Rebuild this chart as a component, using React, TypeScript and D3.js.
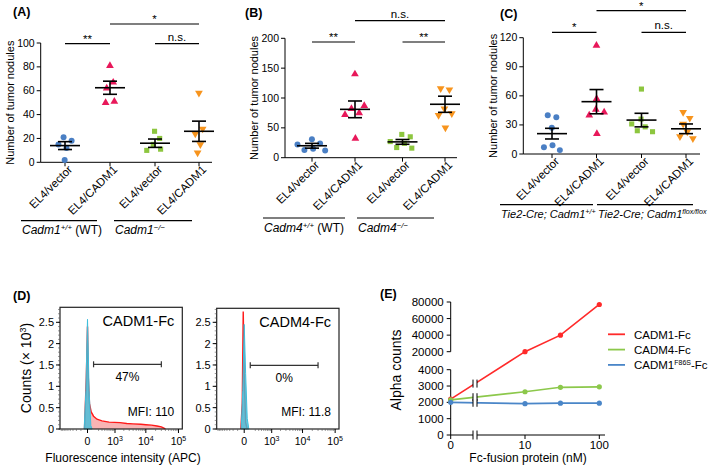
import React from 'react';
import * as d3 from 'd3';

const FONT = 'Arial, "Liberation Sans", Helvetica, sans-serif';

// ---- dot plots (A, B, C) ----
const groupNames = ['EL4/vector', 'EL4/CADM1', 'EL4/vector', 'EL4/CADM1'];
const groupColors = ['#4a7fc4', '#e8185a', '#8dc63f', '#f7941d'];
const groupShapes = ['circle', 'triangle', 'square', 'triangleDown'];

const pointsA = [[21, 18, 15, 12, 2], [81, 67, 62, 51, 50], [26, 20, 15, 11, 10], [58, 28, 24, 15, 8]];
const meansA = [14, 62.5, 16, 26];
const semA = [3.3, 5.5, 3.5, 8.5];
const ticksA = [0, 20, 40, 60, 80, 100];
const sigA = [{ a: 0, b: 1, label: '**' }, { a: 2, b: 3, label: 'n.s.' }, { a: 1, b: 3, label: '*' }];

const pointsB = [[31, 24, 22, 15, 13, 12], [140, 87, 82, 75, 72, 32], [39, 35, 27, 24, 17, 16], [116, 114, 82, 74, 71, 50]];
const meansB = [20, 81, 26.5, 89.5];
const semB = [4, 14, 4, 13.5];
const ticksB = [0, 50, 100, 150, 200];
const sigB = [{ a: 0, b: 1, label: '**' }, { a: 2, b: 3, label: '**' }, { a: 1, b: 3, label: 'n.s.' }];

const pointsC = [[40, 38, 27, 9, 7, 4], [112, 57, 46, 43, 40, 21], [67, 36, 31, 28, 24, 23], [43, 37, 31, 23, 18, 16]];
const meansC = [21, 54, 35, 26];
const semC = [5.5, 12.5, 7, 5];
const ticksC = [0, 30, 60, 90, 120];
const sigC = [{ a: 0, b: 1, label: '*' }, { a: 2, b: 3, label: 'n.s.' }, { a: 1, b: 3, label: '*' }];

const genotypesA = [{ it: 'Cadm1', sup: '+/+', rest: ' (WT)' }, { it: 'Cadm1', sup: '\u2212/\u2212', rest: '' }];
const genotypesB = [{ it: 'Cadm4', sup: '+/+', rest: ' (WT)' }, { it: 'Cadm4', sup: '\u2212/\u2212', rest: '' }];
const genotypesC = [{ it: 'Tie2-Cre; Cadm1', sup: '+/+', rest: '' }, { it: 'Tie2-Cre; Cadm1', sup: 'flox/flox', rest: '' }];

// ---- flow histograms (D) ----
const histCadm1Red = [[-40, 0], [-15, 1.2], [0, 2.4], [10, 1.2], [25, 0.6], [50, 0.4], [90, 0.3], [160, 0.23], [300, 0.19], [600, 0.16], [1500, 0.15], [2500, 0.13], [4000, 0.12], [7000, 0.11], [10000, 0.1], [15000, 0.09], [22000, 0.07], [30000, 0.05], [36000, 0.02], [40000, 0]];
const histCadm1Blue = [[-45, 0], [-20, 0.9], [-6, 2.1], [0, 2.57], [6, 2.1], [20, 0.9], [45, 0.08], [65, 0]];
const histCadm4Red = [[-45, 0], [-25, 0.6], [-12, 2.75], [0, 1.3], [18, 0.15], [40, 0]];
const histCadm4Blue = [[-40, 0], [-18, 0.9], [0, 2.45], [18, 1.3], [40, 0.25], [65, 0]];
const countTicks = [0, 0.5, 1, 1.5, 2, 2.5];
const fluorTicks = [0, 1e3, 1e4, 1e5];

// ---- AlphaScreen (E) ----
const concentrations = [0, 10, 30, 100];
const alphaCadm1 = [2200, 20000, 40000, 77000];
const alphaCadm4 = [2150, 2650, 2920, 2950];
const alphaF86S = [2000, 1920, 1950, 1950];
const alphaLowTicks = [0, 1000, 2000, 3000, 4000];
const alphaHighTicks = [20000, 40000, 60000, 80000];

function swarm(values: number[], cx: number, y: (v: number) => number, r: number) {
  const nodes: any[] = values.map((v, i) => ({ x: cx + (i % 2 ? 1 : -1) * (i + 1), y: y(v), fy: y(v), v }));
  const sim = d3.forceSimulation(nodes).force('x', d3.forceX(cx).strength(0.04)).force('c', d3.forceCollide(r)).stop();
  for (let i = 0; i < 200; i++) sim.tick();
  return nodes;
}

function marker(shape: string) {
  const t = shape === 'circle' ? d3.symbolCircle : shape === 'square' ? d3.symbolSquare : d3.symbolTriangle;
  const size = shape === 'circle' ? 28 : shape === 'square' ? 26 : 26;
  return d3.symbol().type(t).size(size)() as string;
}

function DotPanel(props: any) {
  const { points, means, sems, ticks, sig, genotypes, axisX, y0, yTop, cats, xEnd, sigY, topY, groupY, segs, labelY, letter, letterX, letterY, titleX, genoFont } = props;
  const y = d3.scaleLinear().domain([ticks[0], ticks[ticks.length - 1]]).range([y0, yTop]);
  return (
    <g>
      <text x={letterX} y={letterY} fontSize={12.5} fontWeight="bold">{letter}</text>
      <text transform={`translate(${titleX},${(y0 + yTop) / 2}) rotate(-90)`} textAnchor="middle" fontSize={11}>Number of tumor nodules</text>
      <line x1={axisX} x2={axisX} y1={y0} y2={yTop} stroke="#000" />
      {ticks.map((t: number) => (
        <g key={t}>
          <line x1={axisX - 4} x2={axisX} y1={y(t)} y2={y(t)} stroke="#000" />
          <text x={axisX - 6} y={y(t) + 3.5} textAnchor="end" fontSize={10.5}>{t}</text>
        </g>
      ))}
      <line x1={axisX} x2={xEnd} y1={y0} y2={y0} stroke="#000" />
      {cats.map((cx: number, i: number) => (
        <g key={i}>
          <line x1={cx} x2={cx} y1={y0} y2={y0 + 4} stroke="#000" />
          <text transform={`translate(${cx + 8},${y0 + 8}) rotate(-45)`} textAnchor="end" fontSize={11.5}>{groupNames[i]}</text>
        </g>
      ))}
      {points.map((vals: number[], i: number) => swarm(vals, cats[i], y, 4.4).map((n: any, j: number) => (
        <path key={`${i}-${j}`} d={marker(groupShapes[i])} fill={groupColors[i]}
          transform={`translate(${n.x},${n.y})${groupShapes[i] === 'triangleDown' ? ' rotate(180)' : ''}`} />
      )))}
      {means.map((m: number, i: number) => {
        const cx = cats[i];
        return (
          <g key={i} stroke="#000" strokeWidth={1.6}>
            <line x1={cx - 15} x2={cx + 15} y1={y(m)} y2={y(m)} />
            <line x1={cx} x2={cx} y1={y(m - sems[i])} y2={y(m + sems[i])} />
            <line x1={cx - 7} x2={cx + 7} y1={y(m - sems[i])} y2={y(m - sems[i])} />
            <line x1={cx - 7} x2={cx + 7} y1={y(m + sems[i])} y2={y(m + sems[i])} />
          </g>
        );
      })}
      {sig.map((s: any, i: number) => {
        const ly = i < 2 ? sigY : topY;
        return (
          <g key={i}>
            <line x1={cats[s.a]} x2={cats[s.b]} y1={ly} y2={ly} stroke="#000" strokeWidth={1.2} />
            <text x={(cats[s.a] + cats[s.b]) / 2} y={ly - (s.label === 'n.s.' ? 3 : 1)} textAnchor="middle" fontSize={11.5}>{s.label}</text>
          </g>
        );
      })}
      {segs.map((sg: number[], i: number) => (
        <g key={i}>
          <line x1={sg[0]} x2={sg[1]} y1={groupY} y2={groupY} stroke="#000" strokeWidth={1.2} />
          <text x={sg[0] + 1} y={labelY} fontSize={genoFont}>
            <tspan fontStyle="italic">{genotypes[i].it}</tspan>
            <tspan dy={-4} fontSize={genoFont * 0.65} fontStyle="italic">{genotypes[i].sup}</tspan>
            <tspan dy={4}>{genotypes[i].rest}</tspan>
          </text>
        </g>
      ))}
    </g>
  );
}

function HistPanel(props: any) {
  const { left, top, width, bottom, red, blue, name, pct, mfi, gate } = props;
  const right = left + width;
  const x = d3.scaleSymlog().constant(170).domain([-1000, 131000]).range([left, right]);
  const y = d3.scaleLinear().domain([0, 2.5]).range([bottom, bottom - 106.7]);
  const area = d3.area<number[]>().x(d => x(d[0])).y0(bottom).y1(d => y(d[1]));
  const line = d3.line<number[]>().x(d => x(d[0])).y(d => y(d[1]));
  const minorY = d3.range(0, 2.81, 0.1);
  const minorX: number[] = [];
  [100, 1000, 10000].forEach(d => { for (let k = 2; k <= 9; k++) minorX.push(d * k); });
  [-100, -200, -300, -400, -500, -600, -700, -800, -900].forEach(v => minorX.push(v));
  return (
    <g>
      <path d={area(red) as string} fill="#f8b4b4" />
      <path d={line(red) as string} fill="none" stroke="#ff1a1a" strokeWidth={1.4} />
      <path d={area(blue) as string} fill="#3fbfdc" fillOpacity={0.8} stroke="#3fbfdc" strokeWidth={1} />
      <rect x={left} y={top} width={width} height={bottom - top} fill="none" stroke="#222" strokeWidth={1.2} />
      {minorY.map((t, i) => <line key={i} x1={left - 2} x2={left} y1={y(t)} y2={y(t)} stroke="#555" strokeWidth={0.6} />)}
      {countTicks.map(t => (
        <g key={t}>
          <line x1={left - 4} x2={left} y1={y(t)} y2={y(t)} stroke="#000" />
          <text x={left - 6} y={y(t) + 4} textAnchor="end" fontSize={11}>{t}</text>
        </g>
      ))}
      {minorX.map((t, i) => <line key={i} x1={x(t)} x2={x(t)} y1={bottom} y2={bottom + 2} stroke="#555" strokeWidth={0.6} />)}
      {fluorTicks.map((t, i) => (
        <g key={t}>
          <line x1={x(t)} x2={x(t)} y1={bottom} y2={bottom + 4} stroke="#000" />
          <text x={x(t)} y={bottom + 16} textAnchor="middle" fontSize={10.5}>
            {i === 0 ? '0' : <>10<tspan dy={-4} fontSize={7}>{Math.log10(t)}</tspan></>}
          </text>
        </g>
      ))}
      <text x={right - 8} y={top + 19} textAnchor="end" fontSize={14.5}>{name}</text>
      <g stroke="#333" strokeWidth={1.2}>
        <line x1={x(gate[0])} x2={x(gate[1])} y1={top + 57} y2={top + 57} />
        <line x1={x(gate[0])} x2={x(gate[0])} y1={top + 54} y2={top + 60} />
        <line x1={x(gate[1])} x2={x(gate[1])} y1={top + 54} y2={top + 60} />
      </g>
      <text x={(x(gate[0]) + x(gate[1])) / 2} y={top + 74} textAnchor="middle" fontSize={12}>{pct}</text>
      <text x={right - 8} y={bottom - 13} textAnchor="end" fontSize={12}>{mfi}</text>
    </g>
  );
}

function AlphaPanel() {
  const x0 = 450.7;
  const xBreak = 475;
  const xl = d3.scaleLog().domain([10, 100]).range([525, 599.3]);
  const xE = (c: number) => (c === 0 ? x0 : xl(c));
  const yLow = d3.scaleLinear().domain([0, 4000]).range([435, 369.7]);
  const yHigh = d3.scaleLinear().domain([20000, 80000]).range([351.7, 302]);
  const yE = (v: number) => (v <= 4000 ? yLow(v) : yHigh(v));
  const series = [
    { name: 'CADM1-Fc', sup: '', vals: alphaCadm1, color: '#ff2a2a' },
    { name: 'CADM4-Fc', sup: '', vals: alphaCadm4, color: '#8cc84b' },
    { name: 'CADM1', sup: 'F86S', vals: alphaF86S, color: '#4a86c8' },
  ];
  const line = d3.line<number>().x((_, i) => xE(concentrations[i])).y(d => yE(d));
  const breakMark = (yc: number, h: number, key: string) => (
    <g key={key}>
      <rect x={xBreak - 2} y={yc - h} width={4} height={h * 2} fill="#fff" />
      <line x1={xBreak - 2} x2={xBreak - 2} y1={yc - h} y2={yc + h} stroke="#000" strokeWidth={1} />
      <line x1={xBreak + 2} x2={xBreak + 2} y1={yc - h} y2={yc + h} stroke="#000" strokeWidth={1} />
    </g>
  );
  return (
    <g>
      <text x={380} y={298} fontSize={12.5} fontWeight="bold">(E)</text>
      <text transform="translate(401,370) rotate(-90)" textAnchor="middle" fontSize={14}>Alpha counts</text>
      <line x1={x0} x2={x0} y1={302} y2={351.7} stroke="#000" />
      <line x1={x0} x2={x0} y1={369.7} y2={435} stroke="#000" />
      {alphaHighTicks.map(t => (
        <g key={t}>
          <line x1={x0 - 4} x2={x0} y1={yHigh(t)} y2={yHigh(t)} stroke="#000" />
          <text x={x0 - 7} y={yHigh(t) + 4} textAnchor="end" fontSize={11.5}>{t}</text>
        </g>
      ))}
      {alphaLowTicks.map(t => (
        <g key={t}>
          <line x1={x0 - 4} x2={x0} y1={yLow(t)} y2={yLow(t)} stroke="#000" />
          <text x={x0 - 7} y={yLow(t) + 4} textAnchor="end" fontSize={11.5}>{t}</text>
        </g>
      ))}
      <line x1={x0} x2={605} y1={435} y2={435} stroke="#000" />
      {[0, 10, 100].map(c => (
        <g key={c}>
          <line x1={xE(c)} x2={xE(c)} y1={435} y2={439} stroke="#000" />
          <text x={xE(c)} y={448.5} textAnchor="middle" fontSize={11.5}>{c}</text>
        </g>
      ))}
      {breakMark(435, 4.5, 'axis')}
      {series.map(s => {
        const yb = yE(s.vals[0]) + (yE(s.vals[1]) - yE(s.vals[0])) * (xBreak - x0) / (xE(10) - x0);
        return (
          <g key={s.name + s.sup}>
            <path d={line(s.vals) as string} fill="none" stroke={s.color} strokeWidth={1.6} />
            {s.vals.map((v, i) => <circle key={i} cx={xE(concentrations[i])} cy={yE(v)} r={2.6} fill={s.color} />)}
            {breakMark(yb, 4, s.name)}
          </g>
        );
      })}
      {series.map((s, i) => (
        <g key={i}>
          <line x1={608} x2={625} y1={334.3 + i * 15.3} y2={334.3 + i * 15.3} stroke={s.color} strokeWidth={1.8} />
          <text x={634} y={334.3 + i * 15.3 + 4.5} fontSize={11.5}>
            {s.name}
            {s.sup && <><tspan dy={-4} fontSize={7}>{s.sup}</tspan><tspan dy={4}>-Fc</tspan></>}
          </text>
        </g>
      ))}
      <text x={528} y={462} textAnchor="middle" fontSize={12}>Fc-fusion protein (nM)</text>
    </g>
  );
}

export default function App() {
  return (
    <svg width={709} height={469} style={{ position: 'absolute', left: 0, top: 0, background: '#fff' }} fontFamily={FONT}>
      <rect width={709} height={469} fill="#fff" />
      <DotPanel points={pointsA} means={meansA} sems={semA} ticks={ticksA} sig={sigA} genotypes={genotypesA}
        axisX={40.7} y0={162.3} yTop={43} cats={[65, 110, 155, 199]} xEnd={212} sigY={43.7} topY={24}
        groupY={220.7} segs={[[21, 97], [114, 192]]} labelY={234} letter="(A)" letterX={13} letterY={16} titleX={14} genoFont={12} />
      <DotPanel points={pointsB} means={meansB} sems={semB} ticks={ticksB} sig={sigB} genotypes={genotypesB}
        axisX={285} y0={157.7} yTop={38.3} cats={[312, 355, 402.5, 445]} xEnd={457} sigY={42} topY={20.7}
        groupY={218} segs={[[263, 345], [357, 434]]} labelY={232} letter="(B)" letterX={245} letterY={17} titleX={258} genoFont={12} />
      <DotPanel points={pointsC} means={meansC} sems={semC} ticks={ticksC} sig={sigC} genotypes={genotypesC}
        axisX={523.3} y0={154} yTop={37.7} cats={[552, 596.5, 641.5, 686]} xEnd={700} sigY={32.3} topY={10.7}
        groupY={204.7} segs={[[500, 593], [597, 693]]} labelY={218} letter="(C)" letterX={500} letterY={18} titleX={497} genoFont={11} />

      <text x={13} y={300} fontSize={12.5} fontWeight="bold">(D)</text>
      <text transform="translate(31,368) rotate(-90)" textAnchor="middle" fontSize={14}>
        Counts ({'\u00d7'} 10<tspan dy={-5} fontSize={9}>3</tspan><tspan dy={5}>)</tspan>
      </text>
      <HistPanel left={60} top={307.3} width={122.3} bottom={429} red={histCadm1Red} blue={histCadm1Blue}
        name="CADM1-Fc" pct="47%" mfi="MFI: 110" gate={[90, 30000]} />
      <HistPanel left={216.7} top={308.3} width={122.3} bottom={429} red={histCadm4Red} blue={histCadm4Blue}
        name="CADM4-Fc" pct="0%" mfi="MFI: 11.8" gate={[90, 30000]} />
      <text x={123} y={462} textAnchor="middle" fontSize={12}>Fluorescence intensity (APC)</text>

      <AlphaPanel />
    </svg>
  );
}
